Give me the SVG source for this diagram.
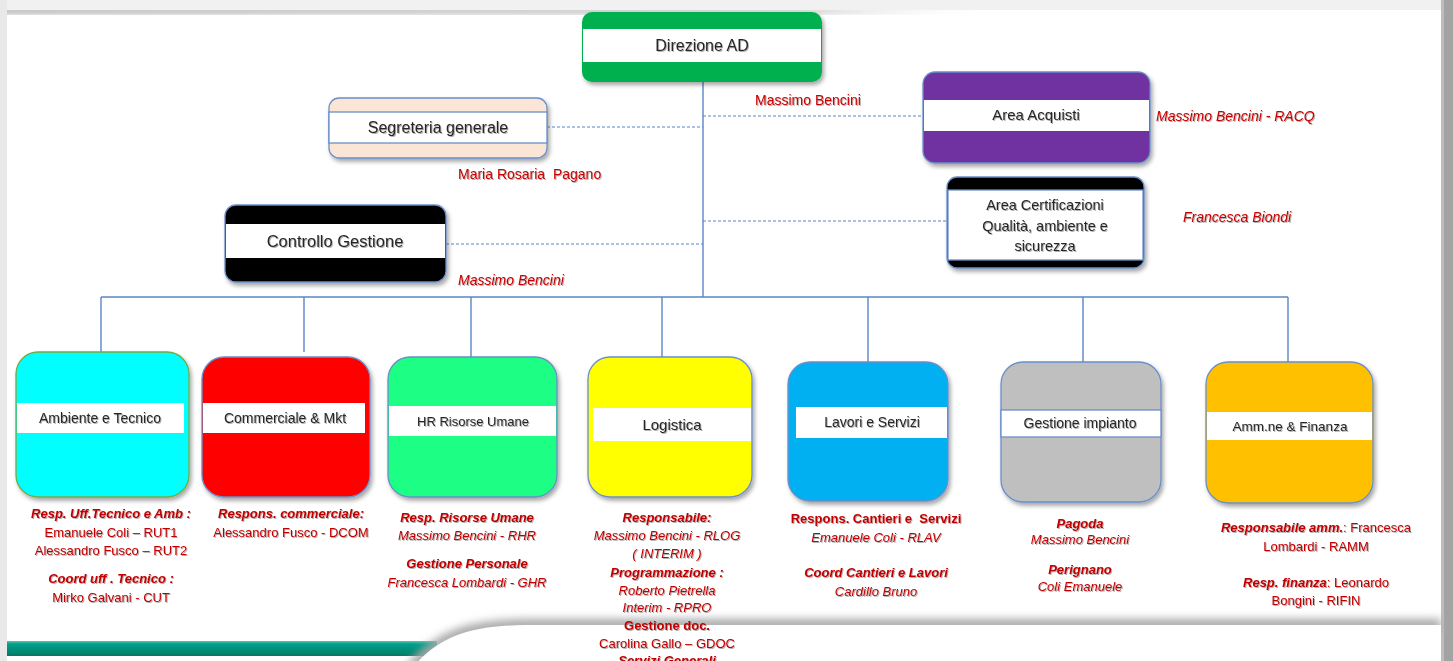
<svg xmlns="http://www.w3.org/2000/svg" width="1453" height="661" viewBox="0 0 1453 661">
<style>
.lbl{font-family:"Liberation Sans",Arial,sans-serif;fill:#262626;text-anchor:middle;filter:url(#ts)}
.red{font-family:"Liberation Sans",Arial,sans-serif;fill:#c80000;font-size:14px;filter:url(#ts)}
.rl{font-family:"Liberation Sans",Arial,sans-serif;fill:#c00000;font-size:13px;text-anchor:middle;filter:url(#ts)}
.bi{font-weight:bold;font-style:italic}
.b{font-weight:bold}
.i{font-style:italic}
.ln{stroke:#5a86c5;stroke-width:1.4;fill:none}
.dash{stroke:#5a86c5;stroke-width:1.2;stroke-dasharray:3 2;fill:none}
.box{filter:url(#sh)}
.band{fill:#fff}
.st{stroke:#6a8fca;stroke-width:1.3}
</style>
<defs>
<filter id="sh" x="-10%" y="-10%" width="130%" height="140%"><feDropShadow dx="2" dy="3" stdDeviation="2" flood-color="#000" flood-opacity="0.35"/></filter>
<filter id="ts" x="-5%" y="-30%" width="110%" height="160%"><feDropShadow dx="1" dy="1" stdDeviation="0.7" flood-color="#000" flood-opacity="0.3"/></filter>
<filter id="blur" x="-5%" y="-50%" width="110%" height="200%"><feGaussianBlur stdDeviation="3"/></filter>
<filter id="blur2" x="-5%" y="-100%" width="110%" height="300%"><feGaussianBlur stdDeviation="4"/></filter>
<linearGradient id="teal" x1="0" y1="0" x2="0" y2="1"><stop offset="0" stop-color="#5cc4b4"/><stop offset="0.2" stop-color="#00a08a"/><stop offset="1" stop-color="#007a66"/></linearGradient>
<linearGradient id="topsh" x1="0" y1="0" x2="1" y2="0"><stop offset="0" stop-color="#888"/><stop offset="0.8" stop-color="#aaa"/><stop offset="1" stop-color="#fff" stop-opacity="0"/></linearGradient>
</defs>

<g id="background">
<rect x="0" y="0" width="1453" height="661" fill="#fff"/>
<rect x="0" y="9" width="1000" height="4" fill="url(#topsh)" filter="url(#blur)"/>
<rect x="0" y="0" width="1453" height="10" fill="#f1f1f1"/>
<rect x="0" y="0" width="7" height="661" fill="#e9e9e9"/>
<rect x="1441" y="0" width="12" height="661" fill="#a3a3a3"/>
<rect x="1441" y="0" width="3" height="661" fill="#bdbdbd"/>
<rect x="7" y="641" width="430" height="15" fill="url(#teal)"/>
<path d="M412,668 C440,636 468,626 525,625 L1441,625" stroke="#a8a8a8" stroke-width="12" fill="none" filter="url(#blur2)"/>
<path d="M412,668 C440,636 468,626 525,625 L1441,625 L1441,661 L412,661 Z" fill="#fff"/>
</g>

<g id="connectors">
<path class="ln" d="M703,82 V297 M101,297 H1288 M101,297 V352 M304,297 V352 M471,297 V357 M662,297 V357 M868,297 V362 M1083,297 V362 M1288,297 V362"/>
<path class="dash" d="M547,127 H703 M703,116 H923 M703,221 H947 M446,244 H703"/>
</g>

<g id="direzione">
<rect class="box" x="582" y="12" width="240" height="70" rx="10" fill="#00b050"/>
<rect class="band" x="583" y="29" width="238" height="33"/>
<text class="lbl" x="702" y="51" font-size="16">Direzione AD</text>
<text class="red" x="755" y="105">Massimo Bencini</text>
</g>

<g id="segreteria">
<rect class="box st" x="329" y="98" width="218" height="60" rx="10" fill="#fbe5d6"/>
<rect class="band st" x="329" y="112" width="218" height="31"/>
<text class="lbl" x="438" y="133" font-size="16">Segreteria generale</text>
<text class="red" x="458" y="179" xml:space="preserve">Maria Rosaria  Pagano</text>
</g>

<g id="acquisti">
<rect class="box st" x="923" y="72" width="227" height="91" rx="12" fill="#7030a0"/>
<rect class="band" x="924" y="100" width="225" height="31"/>
<text class="lbl" x="1036" y="120" font-size="15">Area Acquisti</text>
<text class="red i" x="1156" y="121">Massimo Bencini - RACQ</text>
</g>

<g id="certificazioni">
<rect class="box st" x="947" y="177" width="197" height="91" rx="10" fill="#000"/>
<rect class="band st" x="948" y="190" width="195" height="70"/>
<text class="lbl" x="1045" y="210" font-size="14.5">Area Certificazioni</text>
<text class="lbl" x="1045" y="231" font-size="14.5">Qualità, ambiente e</text>
<text class="lbl" x="1045" y="251" font-size="14.5">sicurezza</text>
<text class="red i" x="1183" y="222">Francesca Biondi</text>
</g>

<g id="controllo">
<rect class="box st" x="225" y="205" width="221" height="77" rx="11" fill="#000"/>
<rect class="band" x="226" y="224" width="219" height="34"/>
<text class="lbl" x="335" y="247" font-size="16.5">Controllo Gestione</text>
<text class="red i" x="458" y="285">Massimo Bencini</text>
</g>

<g id="ambiente">
<rect class="box" x="16" y="352" width="173" height="145" rx="22" fill="#00ffff" stroke="#6fac46" stroke-width="1.3"/>
<rect class="band" x="17" y="403" width="167" height="30"/>
<text class="lbl" x="100" y="423" font-size="14">Ambiente e Tecnico</text>
<text class="rl bi" x="111" y="518">Resp. Uff.Tecnico e Amb :</text>
<text class="rl" x="111" y="537">Emanuele Coli – RUT1</text>
<text class="rl" x="111" y="555">Alessandro Fusco – RUT2</text>
<text class="rl bi" x="111" y="583">Coord uff . Tecnico :</text>
<text class="rl" x="111" y="602">Mirko Galvani - CUT</text>
</g>

<g id="commerciale">
<rect class="box st" x="202" y="357" width="168" height="140" rx="22" fill="#ff0000"/>
<rect class="band" x="203" y="403" width="162" height="30"/>
<text class="lbl" x="285" y="423" font-size="14">Commerciale &amp; Mkt</text>
<text class="rl bi" x="291" y="518">Respons. commerciale:</text>
<text class="rl" x="291" y="537">Alessandro Fusco - DCOM</text>
</g>

<g id="hr">
<rect class="box st" x="388" y="357" width="169" height="140" rx="22" fill="#1aff84"/>
<rect class="band" x="389" y="406" width="167" height="30"/>
<text class="lbl" x="473" y="426" font-size="13">HR Risorse Umane</text>
<text class="rl bi" x="467" y="522">Resp. Risorse Umane</text>
<text class="rl i" x="467" y="540">Massimo Bencini - RHR</text>
<text class="rl bi" x="467" y="568">Gestione Personale</text>
<text class="rl i" x="467" y="587">Francesca Lombardi - GHR</text>
</g>

<g id="logistica">
<rect class="box st" x="588" y="357" width="164" height="140" rx="22" fill="#ffff00"/>
<rect class="band" x="593" y="408" width="158" height="33"/>
<text class="lbl" x="672" y="430" font-size="15">Logistica</text>
<text class="rl bi" x="667" y="522">Responsabile:</text>
<text class="rl i" x="667" y="540">Massimo Bencini - RLOG</text>
<text class="rl i" x="667" y="558">( INTERIM )</text>
<text class="rl bi" x="667" y="577">Programmazione :</text>
<text class="rl i" x="667" y="595">Roberto Pietrella</text>
<text class="rl i" x="667" y="612">Interim - RPRO</text>
<text class="rl b" x="667" y="630">Gestione doc.</text>
<text class="rl" x="667" y="648">Carolina Gallo – GDOC</text>
<text class="rl bi" x="667" y="665">Servizi Generali</text>
</g>

<g id="lavori">
<rect class="box st" x="788" y="362" width="160" height="139" rx="22" fill="#00b0f0"/>
<rect class="band" x="796" y="407" width="151" height="31"/>
<text class="lbl" x="872" y="427" font-size="14">Lavori e Servizi</text>
<text class="rl b" x="876" y="523" xml:space="preserve">Respons. Cantieri e  Servizi</text>
<text class="rl i" x="876" y="542">Emanuele Coli - RLAV</text>
<text class="rl bi" x="876" y="577">Coord Cantieri e Lavori</text>
<text class="rl i" x="876" y="596">Cardillo Bruno</text>
</g>

<g id="gestione">
<rect class="box st" x="1001" y="362" width="160" height="140" rx="22" fill="#bfbfbf"/>
<rect class="band st" x="1001" y="410" width="160" height="27"/>
<text class="lbl" x="1080" y="428" font-size="14">Gestione impianto</text>
<text class="rl bi" x="1080" y="528">Pagoda</text>
<text class="rl i" x="1080" y="544" font-size="11">Massimo Bencini</text>
<text class="rl bi" x="1080" y="574">Perignano</text>
<text class="rl i" x="1080" y="591" font-size="11">Coli Emanuele</text>
</g>

<g id="amministrazione">
<rect class="box st" x="1206" y="362" width="167" height="141" rx="22" fill="#ffc000"/>
<rect class="band" x="1207" y="412" width="165" height="28"/>
<text class="lbl" x="1290" y="431" font-size="13.5">Amm.ne &amp; Finanza</text>
<text class="rl" x="1316" y="532"><tspan class="bi">Responsabile amm.</tspan>: Francesca</text>
<text class="rl" x="1316" y="551">Lombardi - RAMM</text>
<text class="rl" x="1316" y="587"><tspan class="bi">Resp. finanza</tspan>: Leonardo</text>
<text class="rl" x="1316" y="605">Bongini - RIFIN</text>
</g>
</svg>
